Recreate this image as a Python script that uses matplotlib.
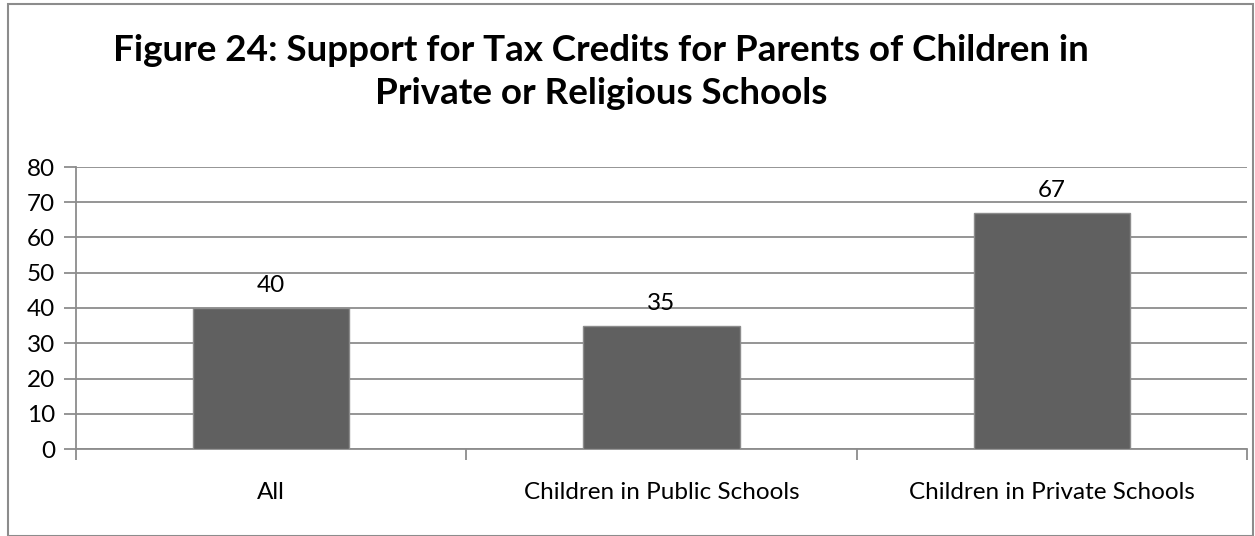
import matplotlib.pyplot as plt
from matplotlib.patches import Rectangle

# data
categories = ["All", "Children in Public Schools", "Children in Private Schools"]
values = [40, 35, 67]
yticks = [0, 10, 20, 30, 40, 50, 60, 70, 80]
title = "Figure 24: Support for Tax Credits for Parents of Children in\nPrivate or Religious Schools"

plt.rcParams['font.family'] = ['Lato', 'DejaVu Sans']

W, H = 1255, 536
fig = plt.figure(figsize=(W / 100, H / 100), dpi=100)

# plot area in pixels: left 76, right 1247, top 167, bottom 449
ax = fig.add_axes([76 / W, 1 - 449 / H, (1247 - 76) / W, (449 - 167) / H])

grid_col = "#8c8c8c"
x = list(range(len(categories)))
ax.bar(x, values, width=0.4, color="#606060", edgecolor="#8c8c8c", linewidth=1, zorder=3)

for xi, v in zip(x, values):
    ax.text(xi, v + 3.3, str(v), ha="center", va="bottom", fontsize=17.5, color="black")

ax.set_xlim(-0.5, len(categories) - 0.5)
ax.set_ylim(0, 80)
ax.set_yticks(yticks)
ax.set_yticklabels([str(t) for t in yticks], fontsize=17.5)
ax.yaxis.grid(True, color=grid_col, linewidth=1.3, zorder=0)
ax.tick_params(axis="y", length=9, color=grid_col, width=1.3, pad=6)

# category labels between boundary ticks
ax.set_xticks([-0.5, 0.5, 1.5, 2.5])
ax.set_xticklabels([])
ax.tick_params(axis="x", length=8, color=grid_col, width=1.3)
for xi, c in zip(x, categories):
    ax.text(xi, -12.2, c, ha="center", va="center", fontsize=17.5)

for s in ["top", "right"]:
    ax.spines[s].set_visible(False)
for s in ["left", "bottom"]:
    ax.spines[s].set_color(grid_col)
    ax.spines[s].set_linewidth(1.3)

fig.text(601 / W, 1 - 72 / H, title, ha="center", va="center", fontsize=26.5,
         fontweight="bold", linespacing=1.35)

# outer chart border
fig.patches.append(Rectangle((8 / W, 0), (1253 - 8) / W, (536 - 4) / H,
                             transform=fig.transFigure, fill=False,
                             edgecolor="#8c8c8c", linewidth=1.5))

fig.savefig("out.png", dpi=100)
